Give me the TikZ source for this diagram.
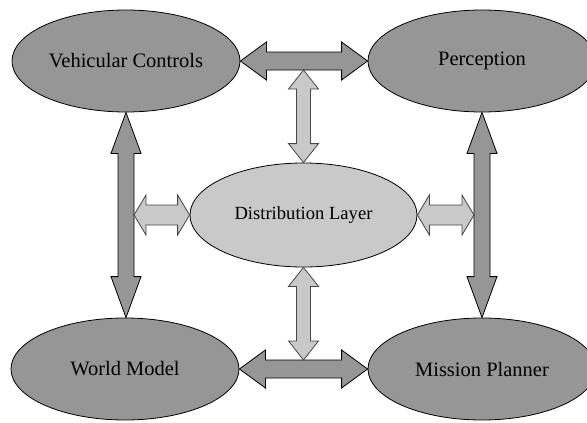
\documentclass[tikz,border=0pt]{standalone}
\usepackage{fontspec}
\setmainfont{Liberation Serif}
\usetikzlibrary{shapes.geometric,calc}

\definecolor{darkfill}{RGB}{150,150,150}
\definecolor{lightfill}{RGB}{201,201,201}
\definecolor{lightedge}{RGB}{70,70,70}

% Horizontal double-headed block arrow, tips at #2 (left) and #3 (right), on the level of #2.
% #4 half shaft width, #5 half head width, #6 head length
\newcommand{\hblockarrow}[6]{%
  \path[#1] let \p1=(#2), \p2=(#3) in
    (\x1,\y1) -- (\x1+#6,\y1+#5) -- (\x1+#6,\y1+#4) -- (\x2-#6,\y1+#4) -- (\x2-#6,\y1+#5)
    -- (\x2,\y1) -- (\x2-#6,\y1-#5) -- (\x2-#6,\y1-#4) -- (\x1+#6,\y1-#4) -- (\x1+#6,\y1-#5) -- cycle;}

% Vertical double-headed block arrow, tips at #2 (top) and #3 (bottom), on the line of #2.
\newcommand{\vblockarrow}[6]{%
  \path[#1] let \p1=(#2), \p2=(#3) in
    (\x1,\y1) -- (\x1+#5,\y1-#6) -- (\x1+#4,\y1-#6) -- (\x1+#4,\y2+#6) -- (\x1+#5,\y2+#6)
    -- (\x1,\y2) -- (\x1-#5,\y2+#6) -- (\x1-#4,\y2+#6) -- (\x1-#4,\y1-#6) -- (\x1-#5,\y1-#6) -- cycle;}

\tikzset{
  module/.style={ellipse, draw=black, line width=0.8pt, fill=darkfill, inner sep=0pt,
    minimum width=228pt, minimum height=102pt, font=\fontsize{20.5}{24}\selectfont},
  hub/.style={module, fill=lightfill, minimum width=227pt, minimum height=104pt,
    font=\fontsize{18.6}{22}\selectfont},
  darkarrow/.style={draw=black, fill=darkfill, line width=0.8pt, line join=miter},
  lightarrow/.style={draw=lightedge, fill=lightfill, line width=0.8pt, line join=miter}
}

\begin{document}
\begin{tikzpicture}[x=1pt, y=-1pt]
  \useasboundingbox (0,0) rectangle (587,423);

  % the five modules
  \node[module] (vc)  at (126,61)    {Vehicular Controls};
  \node[module] (per) at (482,61)    {Perception};
  \node[module] (wm)  at (125,369)   {World Model};
  \node[module] (mp)  at (482,369)   {Mission Planner};
  \node[hub]    (dl)  at (303.5,215) {Distribution Layer};

  % junction points where the light links meet the dark ones
  \coordinate (topjoin)   at ([yshift=-9pt]dl.north |- vc.east);
  \coordinate (botjoin)   at ([yshift=9pt]dl.south |- wm.east);
  \coordinate (leftjoin)  at ([xshift=8pt]vc.south |- dl.west);
  \coordinate (rightjoin) at ([xshift=-8pt]per.south |- dl.east);

  % dark links between the outer modules
  \hblockarrow{darkarrow}{vc.east}{per.west}{9pt}{19pt}{26pt}
  \hblockarrow{darkarrow}{wm.east}{mp.west}{9pt}{19pt}{26pt}
  \vblockarrow{darkarrow}{vc.south}{wm.north}{8pt}{15pt}{41pt}
  \vblockarrow{darkarrow}{per.south}{mp.north}{8pt}{15pt}{41pt}

  % light links to the distribution layer
  \vblockarrow{lightarrow}{topjoin}{dl.north}{7pt}{15pt}{19pt}
  \vblockarrow{lightarrow}{dl.south}{botjoin}{7pt}{15pt}{19pt}
  \hblockarrow{lightarrow}{leftjoin}{dl.west}{10pt}{20pt}{12pt}
  \hblockarrow{lightarrow}{dl.east}{rightjoin}{10pt}{20pt}{12pt}
\end{tikzpicture}
\end{document}
